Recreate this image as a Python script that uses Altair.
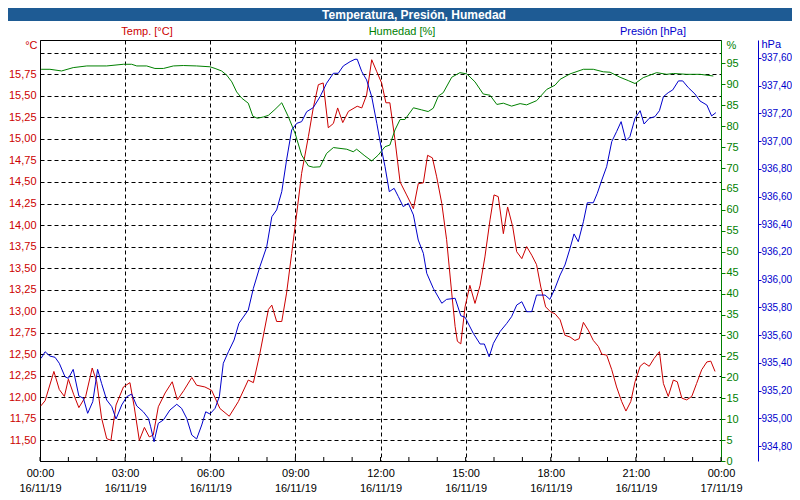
import json
import altair as alt
import pandas as pd

# ---------------- data ----------------
TEMP_HOURS = [0.03,0.18,0.49,0.68,0.86,1.00,1.19,1.37,1.61,1.84,
              2.00,2.17,2.35,2.50,2.68,2.94,3.17,3.32,3.50,3.68,
              3.85,3.99,4.17,4.41,4.66,4.84,5.07,5.35,5.52,5.81,
              6.05,6.34,6.67,6.99,7.34,7.52,7.75,8.05,8.17,8.34,
              8.52,8.69,8.87,9.05,9.22,9.46,9.63,9.81,9.98,10.16,
              10.34,10.49,10.67,10.87,11.18,11.34,11.51,11.69,11.87,12.04,
              12.19,12.33,12.51,12.69,12.92,13.16,13.33,13.51,13.66,13.83,
              13.98,14.16,14.33,14.51,14.63,14.71,14.83,14.98,15.15,15.33,
              15.51,15.68,15.86,16.00,16.15,16.33,16.48,16.66,16.80,16.98,
              17.15,17.33,17.50,17.65,17.82,18.00,18.15,18.33,18.50,18.68,
              18.85,19.00,19.15,19.32,19.50,19.68,19.80,19.97,20.15,20.32,
              20.50,20.65,20.82,20.97,21.15,21.29,21.47,21.64,21.83,21.97,
              22.14,22.32,22.46,22.62,22.79,22.97,23.14,23.32,23.50,23.64,
              23.79]
TEMP_VALUES = [11.90,11.96,12.30,12.09,12.01,12.21,12.03,11.88,12.01,12.34,
               12.18,11.76,11.52,11.50,11.91,12.12,12.17,11.89,11.50,11.65,
               11.54,11.56,11.89,12.05,12.18,11.97,12.08,12.23,12.14,12.12,
               12.08,11.87,11.78,11.95,12.20,12.17,12.51,13.02,13.07,12.88,
               12.88,13.21,13.67,14.14,14.60,15.03,15.36,15.63,15.65,15.13,
               15.18,15.36,15.19,15.32,15.38,15.36,15.51,15.92,15.78,15.65,
               15.42,15.42,14.99,14.50,14.35,14.19,14.48,14.49,14.81,14.78,
               14.56,14.25,13.83,13.21,12.82,12.65,12.62,13.05,13.30,13.09,
               13.30,13.63,14.06,14.35,14.33,13.90,14.21,13.98,13.69,13.61,
               13.75,13.65,13.54,13.28,13.05,12.99,12.97,12.90,12.72,12.70,
               12.66,12.68,12.87,12.78,12.66,12.59,12.50,12.49,12.32,12.12,
               11.95,11.84,11.95,12.18,12.36,12.40,12.36,12.45,12.53,12.16,
               12.01,12.20,12.18,11.99,11.97,12.01,12.16,12.32,12.41,12.42,
               12.30]

HUM_HOURS = [0.04,0.35,0.76,1.17,1.65,2.35,2.94,3.23,3.41,3.76,
             4.05,4.35,4.70,5.05,5.52,5.99,6.17,6.40,6.58,6.76,
             6.93,7.11,7.34,7.50,7.66,7.87,8.05,8.28,8.52,8.75,
             8.99,9.22,9.46,9.63,9.87,10.10,10.34,10.81,11.04,11.16,
             11.45,11.69,11.92,12.16,12.33,12.51,12.69,12.86,13.16,13.45,
             13.68,13.86,14.04,14.21,14.51,14.80,15.04,15.33,15.62,15.86,
             16.10,16.33,16.62,16.92,17.15,17.50,17.86,18.15,18.33,18.68,
             19.15,19.50,19.85,20.09,20.44,20.73,20.97,21.26,21.73,22.09,
             22.32,22.79,23.26,23.73]
HUM_VALUES = [93.6,93.6,93.2,94.0,94.4,94.4,94.8,94.8,94.4,94.4,
              93.8,93.8,94.4,94.5,94.4,94.2,93.8,93.2,92.2,90.6,
              88.2,86.7,85.5,82.4,81.9,82.2,82.6,84.0,85.6,82.3,
              78.3,73.1,70.5,70.2,70.3,73.5,74.9,74.5,73.9,74.5,
              72.9,71.7,73.1,75.1,75.5,79.1,81.6,81.6,84.4,83.9,
              83.5,84.3,87.2,88.0,91.7,92.8,92.5,90.6,87.7,87.4,
              85.2,85.5,84.8,85.4,85.1,86.1,88.8,89.8,91.2,92.5,
              93.6,93.6,93.0,92.9,91.7,90.9,90.2,91.6,92.8,92.4,
              92.6,92.4,92.4,92.0]

PRES_HOURS = [0.04,0.18,0.35,0.53,0.68,0.88,1.00,1.17,1.37,1.53,
              1.68,1.86,2.03,2.17,2.35,2.53,2.68,2.88,3.06,3.23,
              3.41,3.64,3.82,3.90,4.02,4.17,4.35,4.58,4.82,4.99,
              5.17,5.35,5.52,5.70,5.84,5.99,6.17,6.32,6.46,6.64,
              6.84,7.01,7.34,7.52,7.75,7.99,8.17,8.34,8.52,8.69,
              8.87,9.05,9.22,9.40,9.63,9.87,10.10,10.34,10.51,10.69,
              10.93,11.10,11.18,11.34,11.51,11.69,11.87,12.04,12.16,12.31,
              12.48,12.63,12.80,12.98,13.16,13.33,13.51,13.63,13.86,14.16,
              14.33,14.63,14.83,14.98,15.27,15.51,15.66,15.83,15.98,16.21,
              16.45,16.62,16.80,16.98,17.15,17.33,17.50,17.80,17.97,18.15,
              18.33,18.50,18.68,18.82,18.97,19.15,19.29,19.50,19.64,19.80,
              19.97,20.15,20.32,20.48,20.65,20.79,20.97,21.15,21.29,21.47,
              21.67,21.83,21.97,22.14,22.30,22.50,22.65,22.85,23.08,23.26,
              23.50,23.67,23.82]
PRES_VALUES = [935.433,935.480,935.449,935.440,935.397,935.300,935.288,935.353,935.161,935.144,
               935.036,935.120,935.353,935.252,935.132,935.084,934.995,935.096,935.156,935.175,
               935.089,935.047,935.000,934.939,934.831,934.964,934.988,935.060,935.101,935.072,
               935.000,934.879,934.851,934.952,935.047,935.031,935.072,935.156,935.397,935.480,
               935.565,935.685,935.781,935.938,936.094,936.238,936.454,936.503,936.635,936.864,
               937.080,937.128,937.140,937.212,937.241,937.320,937.417,937.489,937.489,937.542,
               937.573,937.590,937.590,937.501,937.441,937.320,937.128,936.936,936.815,936.635,
               936.659,936.599,936.527,936.551,936.467,936.286,936.190,936.046,935.938,935.830,
               935.858,935.866,935.740,935.729,935.613,935.536,935.536,935.444,935.541,935.625,
               935.685,935.733,935.817,935.841,935.769,935.769,935.889,935.889,935.858,935.938,
               936.034,936.106,936.226,936.330,936.274,936.418,936.555,936.555,936.623,936.719,
               936.815,936.996,937.068,937.140,937.003,937.032,937.164,937.219,937.123,937.164,
               937.176,937.219,937.320,937.349,937.369,937.434,937.434,937.385,937.340,937.289,
               937.260,937.181,937.205]

X_TICKS = [0, 3, 6, 9, 12, 15, 18, 21, 24]
TIME_LABELS = ["00:00", "03:00", "06:00", "09:00", "12:00", "15:00", "18:00", "21:00", "00:00"]
DATE_LABELS = ["16/11/19"] * 8 + ["17/11/19"]
HOUR_MARKS = list(range(25))
TEMP_TICKS = [11.50, 11.75, 12.00, 12.25, 12.50, 12.75, 13.00, 13.25, 13.50, 13.75,
              14.00, 14.25, 14.50, 14.75, 15.00, 15.25, 15.50, 15.75, 16.00]
HUM_TICKS = [0, 5, 10, 15, 20, 25, 30, 35, 40, 45, 50, 55, 60, 65, 70, 75, 80, 85, 90, 95]
PRES_TICKS = [934.80, 935.00, 935.20, 935.40, 935.60, 935.80, 936.00, 936.20,
              936.40, 936.60, 936.80, 937.00, 937.20, 937.40, 937.60]

TITLE = "Temperatura, Presión, Humedad"
HEADERS = ["Temp. [°C]", "Humedad [%]", "Presión [hPa]"]

# ---------------- styling ----------------
FONT = "Liberation Sans"
RED = "#cc0000"
GREEN = "#008000"
BLUE = "#0000cc"
BAR = "#1e5b94"
W, H = 681, 421

temp_df = pd.DataFrame({"h": TEMP_HOURS, "v": TEMP_VALUES})
hum_df = pd.DataFrame({"h": HUM_HOURS, "v": HUM_VALUES})
pres_df = pd.DataFrame({"h": PRES_HOURS, "v": PRES_VALUES})
hour_df = pd.DataFrame({"h": HOUR_MARKS})
one = pd.DataFrame({"a": [0]})

label_expr_x = "[" + json.dumps(TIME_LABELS) + "[datum.value/3], " + json.dumps(DATE_LABELS) + "[datum.value/3]]"


def x_enc():
    return alt.X(
        "h:Q",
        scale=alt.Scale(domain=[0, 24], nice=False, zero=False),
        axis=alt.Axis(
            values=X_TICKS,
            labelExpr=label_expr_x,
            title=None,
            grid=True,
            gridColor="black",
            gridDash=[4, 3],
            gridWidth=1,
            gridOpacity={"condition": {"test": "datum.value == 0 || datum.value == 24", "value": 0}, "value": 1},
            domainColor="black",
            tickSize=0,
            labelColor="black",
            labelFont=FONT,
            labelFontSize=11,
            labelPadding=6,
            labelLineHeight=15,
            labelOverlap=False,
            labelFlush=False,
            labelBound=False,
        ),
    )


temp = alt.Chart(temp_df).mark_line(color=RED, strokeWidth=1).encode(
    x=x_enc(),
    y=alt.Y(
        "v:Q",
        scale=alt.Scale(domain=[11.26, 16.149], nice=False, zero=False),
        axis=alt.Axis(
            orient="left",
            values=TEMP_TICKS,
            labelExpr="datum.value > 15.9 ? '' : replace(format(datum.value, '.2f'), '.', ',')",
            grid=True,
            gridColor="black",
            gridDash=[4, 3],
            gridWidth=1,
            domainColor="black",
            tickSize=0,
            labelColor=RED,
            labelFont=FONT,
            labelFontSize=11,
            labelPadding=4,
            title="°C",
            titleAngle=0,
            titleX=-3,
            titleY=5,
            titleAlign="right",
            titleBaseline="middle",
            titleColor=RED,
            titleFont=FONT,
            titleFontSize=11,
            titleFontWeight="normal",
        ),
    ),
)

hum = alt.Chart(hum_df).mark_line(color=GREEN, strokeWidth=1).encode(
    x=x_enc(),
    y=alt.Y(
        "v:Q",
        scale=alt.Scale(domain=[0, 100.6], nice=False, zero=False),
        axis=alt.Axis(
            orient="right",
            values=HUM_TICKS,
            grid=False,
            domainColor=GREEN,
            tickColor=GREEN,
            tickSize=4,
            labelColor=GREEN,
            labelFont=FONT,
            labelFontSize=11,
            labelPadding=1,
            title="%",
            titleAngle=0,
            titleX=5,
            titleY=5,
            titleAlign="left",
            titleBaseline="middle",
            titleColor=GREEN,
            titleFont=FONT,
            titleFontSize=11,
            titleFontWeight="normal",
        ),
    ),
)

pres = alt.Chart(pres_df).mark_line(color=BLUE, strokeWidth=1).encode(
    x=x_enc(),
    y=alt.Y(
        "v:Q",
        scale=alt.Scale(domain=[934.692, 937.729], nice=False, zero=False),
        axis=alt.Axis(
            orient="right",
            offset=37,
            values=PRES_TICKS,
            labelExpr="replace(format(datum.value, '.2f'), '.', ',')",
            grid=False,
            domainColor=BLUE,
            tickColor=BLUE,
            tickSize=3,
            labelColor=BLUE,
            labelFont=FONT,
            labelFontSize=10,
            labelPadding=0,
            title="hPa",
            titleAngle=0,
            titleX=3,
            titleY=4,
            titleAlign="left",
            titleBaseline="middle",
            titleColor=BLUE,
            titleFont=FONT,
            titleFontSize=11,
            titleFontWeight="normal",
        ),
    ),
)

hour_ticks = alt.Chart(hour_df).mark_rule(color="black", strokeWidth=1).encode(
    x=x_enc(),
    y=alt.value(H - 4),
    y2=alt.value(H),
)

title_bar = alt.Chart(one).mark_rect(color=BAR).encode(
    x=alt.value(-32), x2=alt.value(W + 71), y=alt.value(-32), y2=alt.value(-19)
)
title_text = alt.Chart(one).mark_text(
    text=TITLE, color="white", font=FONT, fontSize=12, fontWeight="bold",
    align="center", baseline="middle"
).encode(x=alt.value(374), y=alt.value(-25.5))

h1 = alt.Chart(one).mark_text(text=HEADERS[0], color=RED, font=FONT, fontSize=11,
                              align="center", baseline="middle").encode(x=alt.value(107), y=alt.value(-8.5))
h2 = alt.Chart(one).mark_text(text=HEADERS[1], color=GREEN, font=FONT, fontSize=11,
                              align="center", baseline="middle").encode(x=alt.value(362), y=alt.value(-8.5))
h3 = alt.Chart(one).mark_text(text=HEADERS[2], color=BLUE, font=FONT, fontSize=11,
                              align="center", baseline="middle").encode(x=alt.value(613), y=alt.value(-8.5))

chart = (
    alt.layer(temp, hum, pres, hour_ticks, title_bar, title_text, h1, h2, h3)
    .resolve_scale(y="independent")
    .properties(
        width=W,
        height=H,
        padding={"left": 32, "top": 32, "right": 71, "bottom": 31},
        autosize=alt.AutoSizeParams(type="none"),
        background="white",
    )
    .configure_view(stroke="black", strokeWidth=1)
)

chart.save("out.html", embed_options={"renderer": "svg", "actions": False})
